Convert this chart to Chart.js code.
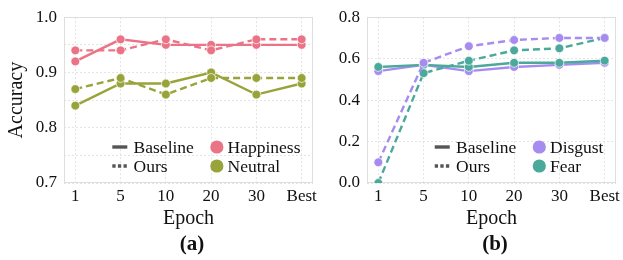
<!DOCTYPE html>
<html><head><meta charset="utf-8">
<script src="https://cdn.jsdelivr.net/npm/chart.js@4.4.1/dist/chart.umd.min.js"></script>
<style>
html,body{margin:0;padding:0;background:#fff;width:623px;height:260px;overflow:hidden;}
#ca{position:absolute;left:0;top:0;}
#cb{position:absolute;left:320px;top:0;}
.cap{position:absolute;top:230px;font:bold 21px "Liberation Serif",serif;transform:translateX(-50%);line-height:26px;color:#111;}
</style></head><body>
<canvas id="ca" width="320" height="231"></canvas>
<canvas id="cb" width="303" height="231"></canvas>
<div class="cap" style="left:192px">(a)</div>
<div class="cap" style="left:495px">(b)</div>
<script>
// ---- data ----
const epochs = ['1', '5', '10', '20', '30', 'Best'];
const happinessBaseline = [0.92, 0.96, 0.95, 0.95, 0.95, 0.95];
const happinessOurs     = [0.94, 0.94, 0.96, 0.94, 0.96, 0.96];
const neutralBaseline   = [0.84, 0.88, 0.88, 0.90, 0.86, 0.88];
const neutralOurs       = [0.87, 0.89, 0.86, 0.89, 0.89, 0.89];
const disgustBaseline   = [0.54, 0.57, 0.54, 0.56, 0.57, 0.58];
const disgustOurs       = [0.10, 0.58, 0.66, 0.69, 0.70, 0.70];
const fearBaseline      = [0.56, 0.57, 0.56, 0.58, 0.58, 0.59];
const fearOurs          = [0.00, 0.53, 0.59, 0.64, 0.65, 0.70];
const leftYTicks  = [0.7, 0.8, 0.9, 1.0];
const rightYTicks = [0.0, 0.2, 0.4, 0.6, 0.8];
const styleLabels = ['Baseline', 'Ours'];
const leftNames  = ['Happiness', 'Neutral'];
const rightNames = ['Disgust', 'Fear'];

const FONT = '"Liberation Serif", "DejaVu Serif", serif';
Chart.defaults.font.family = FONT;
Chart.defaults.color = '#111';

const C = { pink: '#ea7485', olive: '#98a43a', purple: '#a68cf0', teal: '#4ba99b' };

function pts(arr) { return arr.map((v, i) => ({ x: i, y: v })); }
function ds(arr, color, dashed) {
  return {
    data: pts(arr), borderColor: color, backgroundColor: color,
    borderWidth: 2.4, borderDash: dashed ? [7, 4] : [],
    pointRadius: 4.4, pointBackgroundColor: color, pointBorderColor: '#fff', pointBorderWidth: 0.7,
    tension: 0, clip: 0
  };
}

const framePlugin = {
  id: 'frame',
  beforeDatasetsDraw(chart) {
    const { ctx, chartArea: a } = chart;
    ctx.save();
    ctx.strokeStyle = '#dedede'; ctx.lineWidth = 1;
    ctx.strokeRect(Math.round(a.left) + 0.5, Math.round(a.top) + 0.5, Math.round(a.right - a.left) - 1, Math.round(a.bottom - a.top) - 1);
    ctx.restore();
  }
};

const legendPlugin = {
  id: 'lg',
  afterDraw(chart, args, opts) {
    const { ctx, chartArea: a } = chart;
    ctx.save();
    ctx.font = '17.5px ' + FONT;
    ctx.textBaseline = 'middle';
    ctx.fillStyle = '#111';
    const w1 = Math.max(...styleLabels.map(t => ctx.measureText(t).width));
    const w2 = Math.max(...opts.names.map(t => ctx.measureText(t).width));
    const t2x = a.right - 12.5 - w2;
    const cx = t2x - 10.7;
    const t1x = cx - 23 - w1;
    const rows = [a.bottom - 36, a.bottom - 17];
    rows.forEach((y, r) => {
      ctx.strokeStyle = '#555';
      ctx.lineWidth = 3.4;
      ctx.setLineDash(r === 0 ? [] : [3.3, 2.3]);
      ctx.beginPath(); ctx.moveTo(t1x - 21.3, y); ctx.lineTo(t1x - 6.3, y); ctx.stroke();
      ctx.setLineDash([]);
      ctx.fillText(styleLabels[r], t1x, y + 1);
      ctx.fillStyle = opts.colors[r];
      ctx.beginPath(); ctx.arc(cx, y, 6.6, 0, Math.PI * 2); ctx.fill();
      ctx.fillStyle = '#111';
      ctx.fillText(opts.names[r], t2x, y + 1);
    });
    ctx.restore();
  }
};

function makeChart(id, datasets, ymin, ymax, ystep, yLabels, yTitle, yWidth, padRight, names, colors) {
  return new Chart(document.getElementById(id), {
    type: 'line',
    data: { datasets },
    plugins: [framePlugin, legendPlugin],
    options: {
      responsive: false, animation: false, devicePixelRatio: 1,
      layout: { padding: { left: 0, right: padRight, top: 13, bottom: 0 } },
      plugins: { legend: { display: false }, tooltip: { enabled: false }, lg: { names, colors } },
      scales: {
        x: {
          type: 'linear', min: -0.25, max: 5.25,
          afterFit(s) { s.height = 48; },
          grid: { color: '#e4e4e4', lineWidth: 1, drawTicks: false },
          border: { display: false, dash: [2, 2] },
          ticks: {
            stepSize: 1, includeBounds: false, padding: 3, maxRotation: 0, autoSkip: false,
            font: { size: 17 }, color: '#111',
            callback: v => (Number.isInteger(v) && epochs[v] !== undefined) ? epochs[v] : ''
          },
          title: { display: true, text: 'Epoch', font: { size: 20 }, color: '#111', padding: 0 }
        },
        y: {
          min: ymin, max: ymax,
          afterFit(s) { s.width = yWidth; },
          grid: { color: '#e4e4e4', lineWidth: 1, drawTicks: false },
          border: { display: false, dash: [2, 2] },
          ticks: {
            stepSize: ystep, includeBounds: false, padding: 7, autoSkip: false,
            font: { size: 17 }, color: '#111',
            callback: v => { const m = yLabels.find(t => Math.abs(t - v) < 1e-6); return m === undefined ? '' : m.toFixed(1); }
          },
          title: { display: !!yTitle, text: yTitle || '', font: { size: 20 }, color: '#111', padding: { top: 5, bottom: 0 } }
        }
      }
    }
  });
}

makeChart('ca', [
  ds(happinessOurs, C.pink, true),
  ds(happinessBaseline, C.pink, false),
  ds(neutralOurs, C.olive, true),
  ds(neutralBaseline, C.olive, false)
], 0.7, 1.0, 0.05, leftYTicks, 'Accuracy', 64, 2, leftNames, [C.pink, C.olive]);

makeChart('cb', [
  ds(disgustOurs, C.purple, true),
  ds(fearOurs, C.teal, true),
  ds(fearBaseline, C.teal, false),
  ds(disgustBaseline, C.purple, false)
], 0.0, 0.8, 0.2, rightYTicks, '', 47, 1, rightNames, [C.purple, C.teal]);
</script>
</body></html>
